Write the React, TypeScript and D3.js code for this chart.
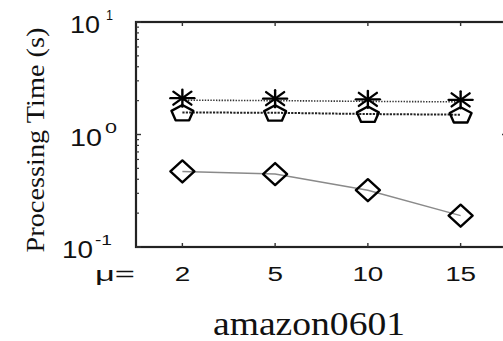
import React from "react";
import * as d3 from "d3";

// values
const mus = ["2", "5", "10", "15"];
const starTimes = [2.02, 2.0, 1.97, 1.95];
const pentagonTimes = [1.57, 1.56, 1.52, 1.5];
const diamondTimes = [0.47, 0.445, 0.32, 0.19];
const yMajor = [0.1, 1, 10];
const yMinor = [0.2, 0.3, 0.4, 0.5, 0.6, 0.7, 0.8, 0.9, 2, 3, 4, 5, 6, 7, 8, 9];

const W = 503, H = 341;
const left = 136, right = 507, top = 22, bottom = 247;

const sans = "'Liberation Sans', Arial, sans-serif";
const serif = "'Liberation Serif', 'Times New Roman', serif";
const ink = "#111";

const x = d3.scalePoint<string>().domain(mus).range([left, right]).padding(0.5);
const y = d3.scaleLog().domain([0.1, 10]).range([bottom, top]);

const line = d3.line<number>()
  .x((_, i) => x(mus[i]) as number)
  .y(d => y(d));

const Star = ({ cx, cy }: { cx: number; cy: number }) => (
  <g stroke="#000" strokeWidth={2.4} strokeLinecap="round">
    <line x1={cx - 12} y1={cy} x2={cx + 12} y2={cy} />
    <line x1={cx} y1={cy - 8.5} x2={cx} y2={cy + 8.5} />
    <line x1={cx - 9} y1={cy - 6.5} x2={cx + 9} y2={cy + 6.5} />
    <line x1={cx - 9} y1={cy + 6.5} x2={cx + 9} y2={cy - 6.5} />
  </g>
);

const Pentagon = ({ cx, cy }: { cx: number; cy: number }) => {
  const pts = d3.range(5).map(k => {
    const a = -Math.PI / 2 + (k * 2 * Math.PI) / 5;
    return [cx + 11.5 * Math.cos(a), cy + 1 + 8.5 * Math.sin(a)];
  });
  return <polygon points={pts.map(p => p.join(",")).join(" ")} fill="none" stroke="#000" strokeWidth={2.4} strokeLinejoin="round" />;
};

const Diamond = ({ cx, cy }: { cx: number; cy: number }) => (
  <polygon
    points={`${cx - 12},${cy} ${cx},${cy - 11} ${cx + 12},${cy} ${cx},${cy + 11}`}
    fill="none" stroke="#000" strokeWidth={2.4} strokeLinejoin="round"
  />
);

const supText: Record<number, { base: [number, number]; sup: string; supX: number; supLen: number }> = {
  10: { base: [70, 30], sup: "1", supX: 106, supLen: 7 },
  1: { base: [70, 32], sup: "0", supX: 105, supLen: 12 },
  0.1: { base: [62, 31], sup: "-1", supX: 95, supLen: 17 },
};

export default function App() {
  return (
    <svg width={W} height={H} style={{ position: "absolute", left: 0, top: 0, background: "#fff" }}>
      {/* series lines */}
      <path d={line(diamondTimes) ?? ""} fill="none" stroke="#8a8a8a" strokeWidth={1.5} />
      <path d={line(pentagonTimes) ?? ""} fill="none" stroke="#222" strokeWidth={2} strokeDasharray="2.2,1.2" />
      <path d={line(starTimes) ?? ""} fill="none" stroke="#333" strokeWidth={1.6} strokeDasharray="1.4,1.4" />

      {/* axes box */}
      <rect x={left} y={top} width={right - left} height={bottom - top} fill="none" stroke="#222" strokeWidth={2.2} />
      {yMinor.map(v => (
        <g key={v} stroke="#333" strokeWidth={1.2}>
          <line x1={left} x2={left + 3} y1={y(v)} y2={y(v)} />
          <line x1={right} x2={right - 3} y1={y(v)} y2={y(v)} />
        </g>
      ))}
      {yMajor.map(v => (
        <g key={v} stroke="#333" strokeWidth={1.4}>
          <line x1={left} x2={left + 5} y1={y(v)} y2={y(v)} />
          <line x1={right} x2={right - 5} y1={y(v)} y2={y(v)} />
        </g>
      ))}
      {mus.map(m => (
        <g key={m} stroke="#333" strokeWidth={1.4}>
          <line x1={x(m)} x2={x(m)} y1={top} y2={top + 4} />
          <line x1={x(m)} x2={x(m)} y1={bottom} y2={bottom - 4} />
        </g>
      ))}

      {/* markers */}
      {diamondTimes.map((v, i) => <Diamond key={i} cx={x(mus[i]) as number} cy={y(v)} />)}
      {pentagonTimes.map((v, i) => <Pentagon key={i} cx={x(mus[i]) as number} cy={y(v)} />)}
      {starTimes.map((v, i) => <Star key={i} cx={x(mus[i]) as number} cy={y(v) - 2} />)}

      {/* y tick labels */}
      {yMajor.map(v => {
        const t = supText[v];
        const by = y(v) + 11;
        return (
          <g key={v} fill={ink} fontFamily={sans}>
            <text x={t.base[0]} y={by} fontSize={24} textLength={t.base[1]} lengthAdjust="spacingAndGlyphs">10</text>
            <text x={t.supX} y={by - 13} fontSize={15} textLength={t.supLen} lengthAdjust="spacingAndGlyphs">{t.sup}</text>
          </g>
        );
      })}

      {/* x tick labels */}
      <text x={95} y={281} fontSize={21} fill={ink} fontFamily={sans} textLength={40} lengthAdjust="spacingAndGlyphs">μ=</text>
      {mus.map(m => (
        <text key={m} x={x(m)} y={281} fontSize={20} fill={ink} fontFamily={sans} textAnchor="middle"
          textLength={m.length * 15.5} lengthAdjust="spacingAndGlyphs">{m}</text>
      ))}

      {/* titles */}
      <text transform="translate(44,140) rotate(-90)" textAnchor="middle" fontSize={26} fill={ink} fontFamily={serif}
        textLength={225} lengthAdjust="spacingAndGlyphs">Processing Time (s)</text>
      <text x={309} y={335} textAnchor="middle" fontSize={34} fill={ink} fontFamily={serif}
        textLength={192} lengthAdjust="spacingAndGlyphs">amazon0601</text>
    </svg>
  );
}
